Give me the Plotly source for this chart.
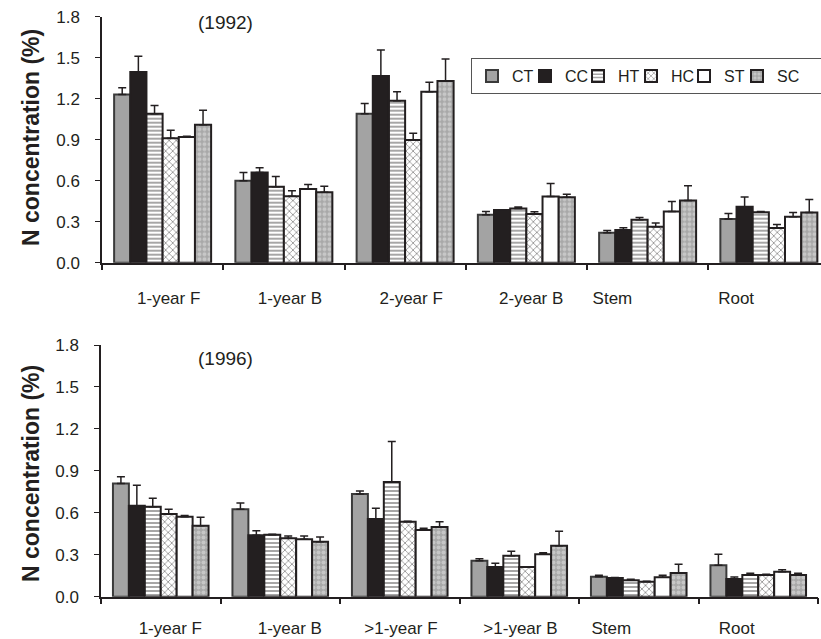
import plotly.graph_objects as go

W, H = 821, 639

series = ["CT", "CC", "HT", "HC", "ST", "SC"]

cats_1992 = ["1-year F", "1-year B", "2-year F", "2-year B", "Stem", "Root"]
cats_1996 = ["1-year F", "1-year B", ">1-year F", ">1-year B", "Stem", "Root"]

# 1992 means and (upper) standard errors
ct_92 = [1.23, 0.60, 1.09, 0.35, 0.22, 0.32]
cc_92 = [1.395, 0.66, 1.367, 0.385, 0.24, 0.41]
ht_92 = [1.09, 0.556, 1.185, 0.397, 0.314, 0.37]
hc_92 = [0.91, 0.486, 0.898, 0.356, 0.263, 0.253]
st_92 = [0.92, 0.54, 1.25, 0.484, 0.375, 0.336]
sc_92 = [1.01, 0.515, 1.33, 0.479, 0.455, 0.368]

ct_92_se = [0.05, 0.06, 0.075, 0.025, 0.015, 0.04]
cc_92_se = [0.115, 0.035, 0.19, 0.0, 0.015, 0.07]
ht_92_se = [0.06, 0.075, 0.065, 0.01, 0.016, 0.005]
hc_92_se = [0.06, 0.04, 0.05, 0.016, 0.027, 0.027]
st_92_se = [0.005, 0.033, 0.07, 0.096, 0.073, 0.032]
sc_92_se = [0.105, 0.045, 0.16, 0.021, 0.108, 0.095]

# 1996 means and (upper) standard errors
ct_96 = [0.81, 0.625, 0.735, 0.257, 0.143, 0.225]
cc_96 = [0.651, 0.439, 0.556, 0.212, 0.134, 0.127]
ht_96 = [0.644, 0.443, 0.82, 0.293, 0.117, 0.155]
hc_96 = [0.592, 0.418, 0.536, 0.212, 0.107, 0.155]
st_96 = [0.572, 0.41, 0.477, 0.303, 0.139, 0.179]
sc_96 = [0.508, 0.393, 0.499, 0.365, 0.17, 0.155]

ct_96_se = [0.047, 0.045, 0.021, 0.015, 0.01, 0.078]
cc_96_se = [0.146, 0.033, 0.076, 0.027, 0.003, 0.014]
ht_96_se = [0.06, 0.004, 0.29, 0.032, 0.007, 0.012]
hc_96_se = [0.033, 0.016, 0.003, 0.003, 0.003, 0.005]
st_96_se = [0.008, 0.024, 0.012, 0.012, 0.014, 0.014]
sc_96_se = [0.06, 0.034, 0.037, 0.103, 0.062, 0.012]

y_ticks = [0.0, 0.3, 0.6, 0.9, 1.2, 1.5, 1.8]
y_ticktext = ["0.0", "0.3", "0.6", "0.9", "1.2", "1.5", "1.8"]

data_92 = [ct_92, cc_92, ht_92, hc_92, st_92, sc_92]
se_92 = [ct_92_se, cc_92_se, ht_92_se, hc_92_se, st_92_se, sc_92_se]
data_96 = [ct_96, cc_96, ht_96, hc_96, st_96, sc_96]
se_96 = [ct_96_se, cc_96_se, ht_96_se, hc_96_se, st_96_se, sc_96_se]

# label placement nudges (in category widths), as in the original figure
label_nudge_92 = [0.05, 0.05, 0.05, 0.04, -0.29, -0.27]
label_nudge_96 = [0.08, 0.08, 0.01, 0.01, -0.23, -0.18]

INK = "#231f20"
styles = {
    "CT": dict(color="#a3a3a3", line=dict(color="#3a3a3a", width=2)),
    "CC": dict(color=INK, line=dict(color=INK, width=2)),
    "HT": dict(color="white", line=dict(color=INK, width=2),
               pattern=dict(shape="-", fgcolor=INK, bgcolor="white", size=4, solidity=0.4)),
    "HC": dict(color="white", line=dict(color=INK, width=2),
               pattern=dict(shape="x", fgcolor=INK, bgcolor="white", size=5, solidity=0.3)),
    "ST": dict(color="white", line=dict(color=INK, width=2)),
    "SC": dict(color="#b5b5b5", line=dict(color=INK, width=2),
               pattern=dict(shape=".", fgcolor="#e6e6e6", bgcolor="#a8a8a8", size=5, solidity=0.5)),
}
legend_widths = {"SC": 120}

FONT = "Liberation Sans, Arial, sans-serif"

fig = go.Figure()

def add_year(data, se, cats, xa, ya, show):
    pos = list(range(len(cats)))
    for name, vals, errs in zip(series, data, se):
        extra = {}
        if show and name in legend_widths:
            extra["legendwidth"] = legend_widths[name]
        fig.add_trace(go.Bar(
            x=pos, y=vals, name=name, xaxis=xa, yaxis=ya,
            customdata=cats, hovertemplate="%{customdata}: %{y}",
            marker=styles[name], showlegend=show, legendgroup=name,
            error_y=dict(type="data", array=errs, arrayminus=[0] * len(errs),
                         symmetric=False, color=INK, thickness=1.5, width=4),
            **extra,
        ))

add_year(data_92, se_92, cats_1992, "x", "y", True)
add_year(data_96, se_96, cats_1996, "x2", "y2", False)

def px_x(p):
    return p / W

def px_y(p):
    return 1 - p / H

def x_axis(cats, nudge, domain, rng, standoff):
    n = len(cats)
    return dict(
        domain=domain, type="linear", range=rng,
        tickmode="array", tickvals=[i + d for i, d in enumerate(nudge)], ticktext=cats,
        ticks="outside", ticklen=0, ticklabelstandoff=standoff,
        minor=dict(tickmode="array", tickvals=[i - 0.5 for i in range(n + 1)],
                   ticks="outside", ticklen=6, tickcolor=INK, tickwidth=1.5, showgrid=False),
        showline=True, linecolor=INK, linewidth=1.5, showgrid=False, zeroline=False,
        automargin=False, tickfont=dict(family=FONT, size=17, color=INK),
    )

y_common = dict(range=[0, 1.8], tickvals=y_ticks, ticktext=y_ticktext, ticklen=5,
                ticklabelstandoff=12, showline=True, linecolor=INK, linewidth=1.5,
                showgrid=False, zeroline=False, ticks="outside", tickcolor=INK,
                automargin=False, tickfont=dict(family=FONT, size=17, color=INK))

fig.update_layout(
    width=W, height=H,
    margin=dict(l=0, r=0, t=0, b=0, autoexpand=False),
    paper_bgcolor="white", plot_bgcolor="white",
    barmode="group", bargap=0.2, bargroupgap=0.0,
    font=dict(family=FONT, color=INK),
    xaxis=dict(anchor="y", **x_axis(cats_1992, label_nudge_92, [px_x(102), 1.0], [-0.5, 5.43], 19)),
    yaxis=dict(domain=[px_y(262.7), px_y(16.7)], anchor="x", **y_common),
    xaxis2=dict(anchor="y2", **x_axis(cats_1996, label_nudge_96, [px_x(101), px_x(818)], [-0.5, 5.5], 15)),
    yaxis2=dict(domain=[px_y(596.7), px_y(345)], anchor="x2", **y_common),
    legend=dict(orientation="h", x=px_x(471), y=px_y(58), xanchor="left", yanchor="top",
                bordercolor="#555", borderwidth=1, bgcolor="white",
                font=dict(family=FONT, size=16, color=INK),
                itemwidth=30, entrywidth=8, tracegroupgap=0, traceorder="normal"),
    annotations=[
        dict(text="(1992)", x=px_x(225), y=px_y(22), xref="paper", yref="paper",
             xanchor="center", yanchor="middle",
             showarrow=False, font=dict(family=FONT, size=19, color=INK)),
        dict(text="(1996)", x=px_x(225), y=px_y(358), xref="paper", yref="paper",
             xanchor="center", yanchor="middle",
             showarrow=False, font=dict(family=FONT, size=19, color=INK)),
        dict(text="<b>N concentration (%)</b>", x=px_x(31), y=px_y(138),
             xref="paper", yref="paper", showarrow=False, textangle=-90,
             xanchor="center", yanchor="middle",
             font=dict(family=FONT, size=23, color=INK)),
        dict(text="<b>N concentration (%)</b>", x=px_x(31), y=px_y(474),
             xref="paper", yref="paper", showarrow=False, textangle=-90,
             xanchor="center", yanchor="middle",
             font=dict(family=FONT, size=23, color=INK)),
    ],
)

fig.write_html("out.html")
